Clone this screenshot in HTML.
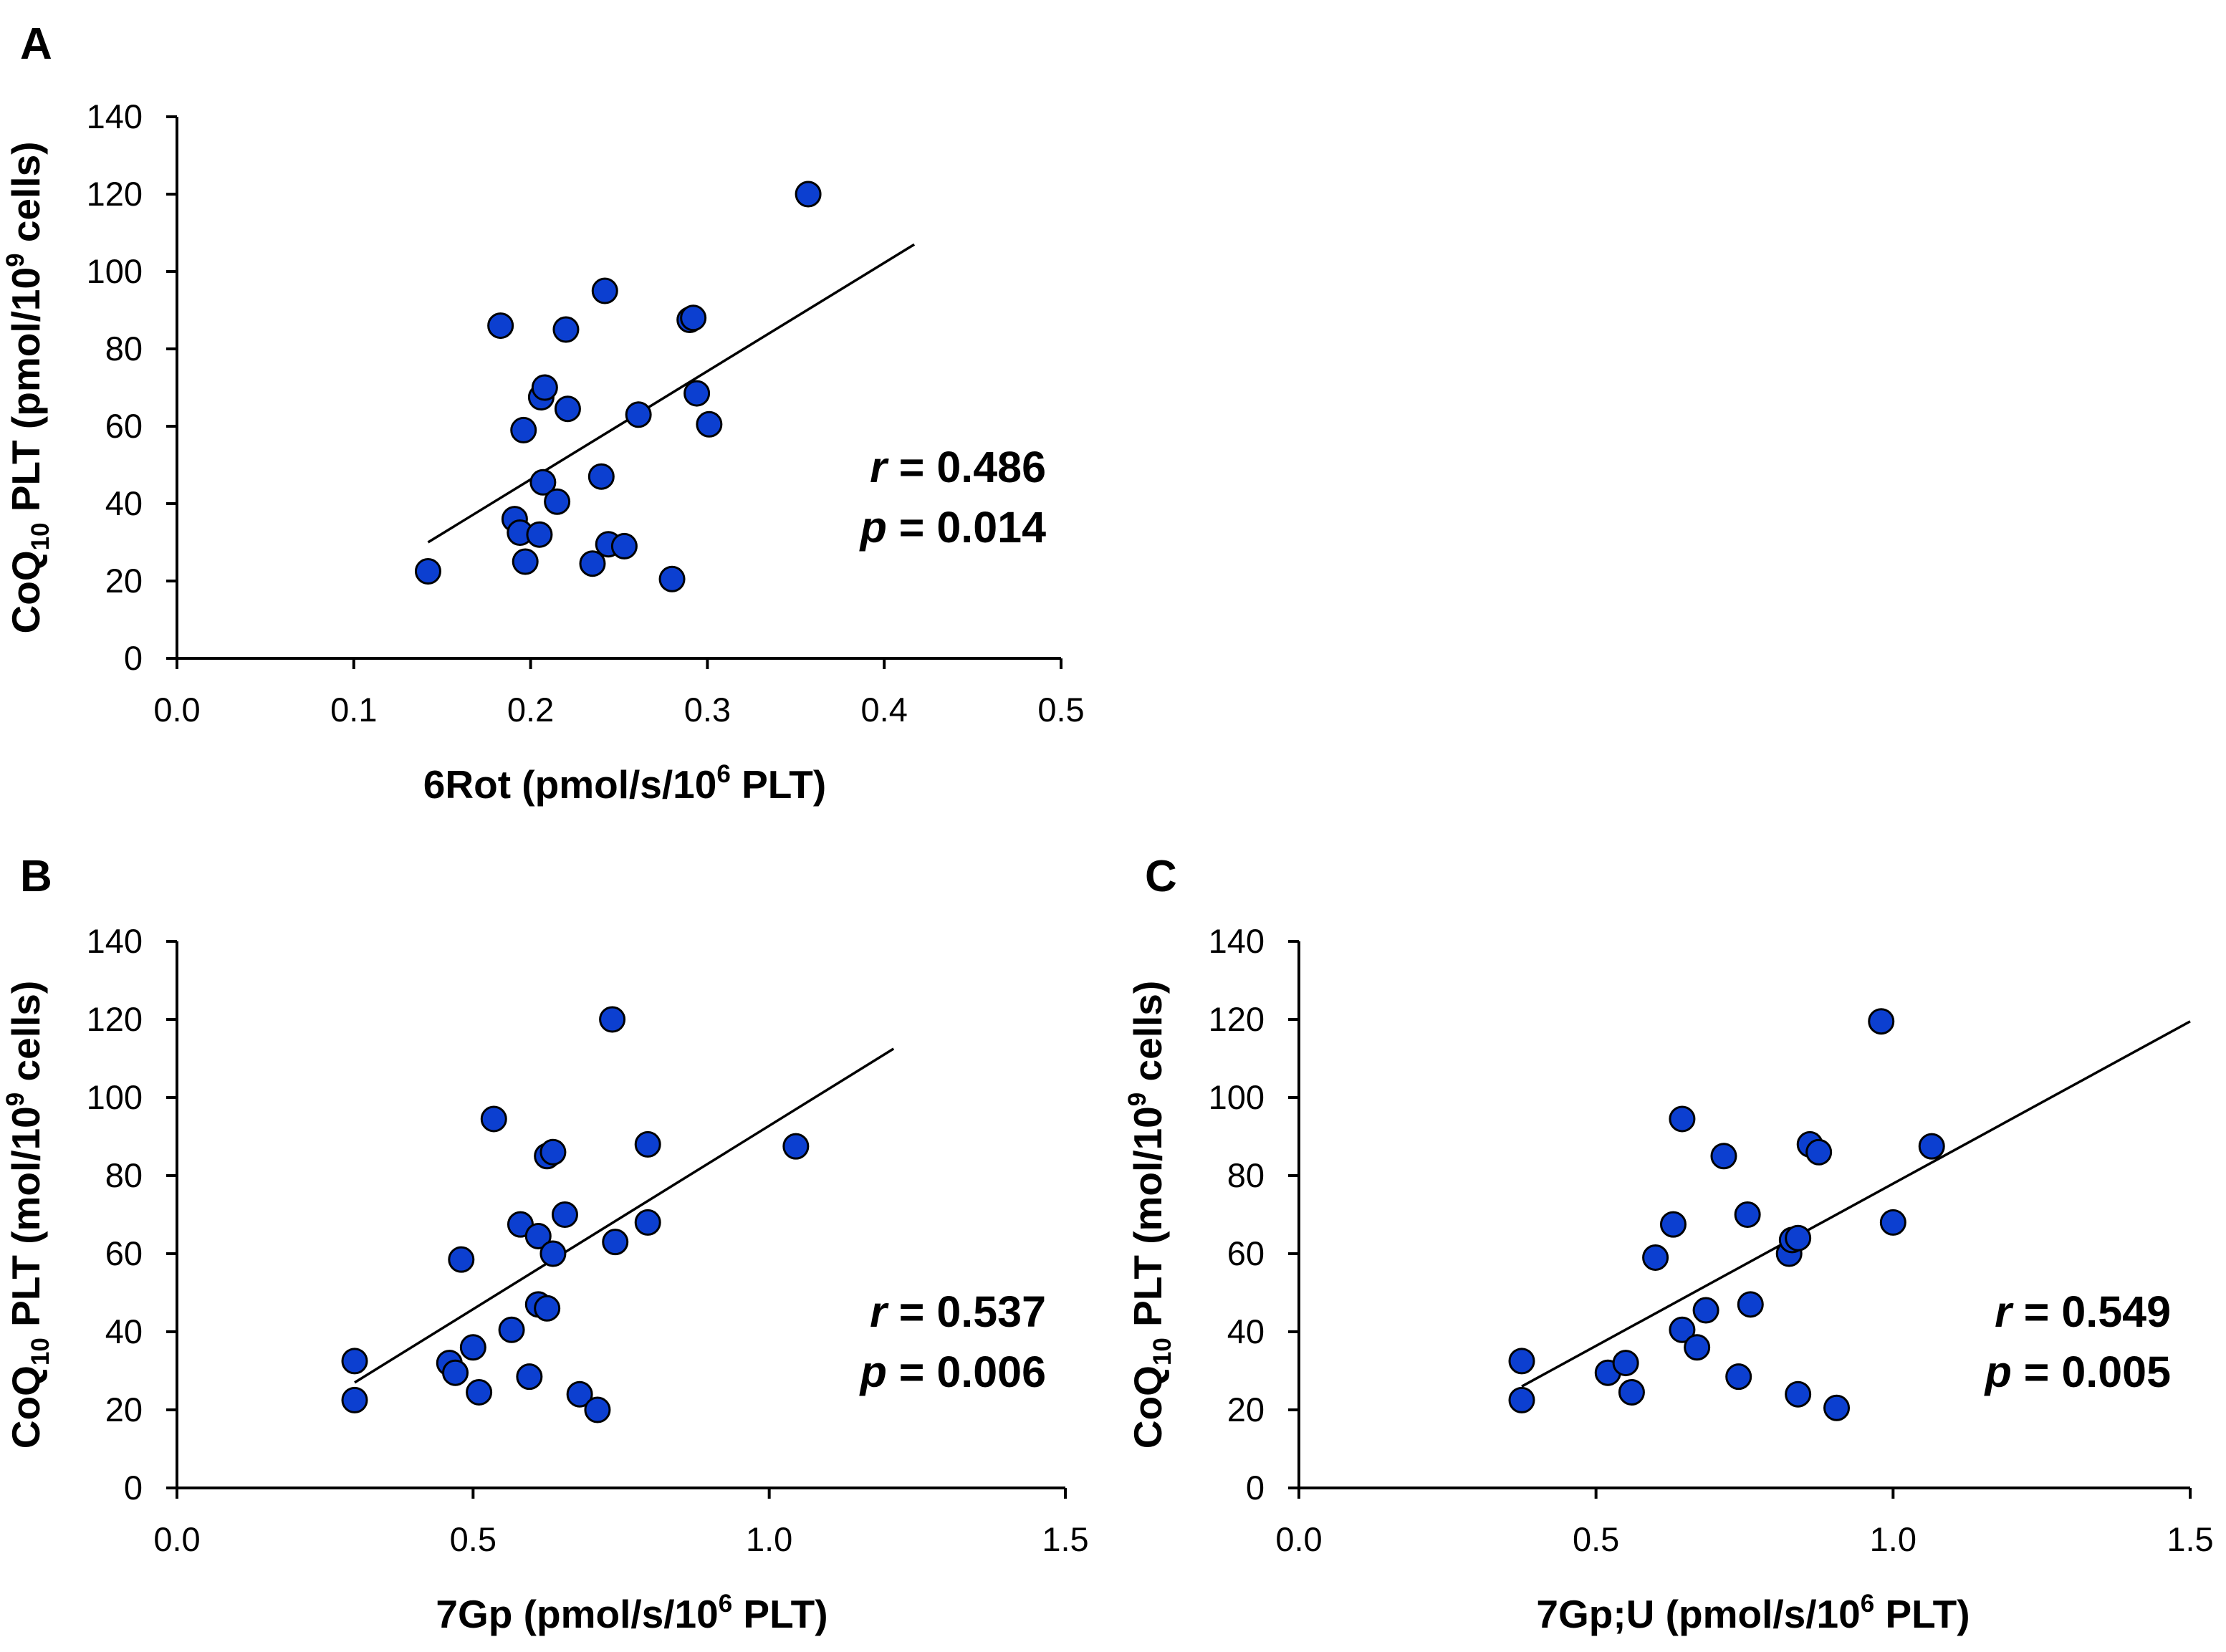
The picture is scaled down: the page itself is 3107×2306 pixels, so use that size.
<!DOCTYPE html>
<html><head><meta charset="utf-8"><style>
html,body{margin:0;padding:0;background:#fff;}
svg{display:block;font-family:"Liberation Sans",sans-serif;}
.tick{font-size:47px;fill:#000;}
.title{font-size:55px;font-weight:bold;fill:#000;}
.stat{font-size:61px;font-weight:bold;fill:#000;}
.letter{font-size:62px;font-weight:bold;fill:#000;}
</style></head><body>
<svg id="fig" width="3107" height="2306" viewBox="0 0 3107 2306" xmlns="http://www.w3.org/2000/svg"></svg>
<script>
// Panel A data
const aX = [0.142,0.183,0.191,0.194,0.196,0.197,0.205,0.206,0.207,0.208,0.215,0.220,0.221,0.235,0.240,0.242,0.244,0.253,0.261,0.280,0.290,0.292,0.294,0.301,0.357];
const aY = [22.5,86,36,32.5,59,25,32,67.5,45.5,70,40.5,85,64.5,24.5,47,95,29.5,29,63,20.5,87.5,88,68.5,60.5,120];
const aLineX = [0.142,0.417];
const aLineY = [30,107];
const aXTicks = ["0.0","0.1","0.2","0.3","0.4","0.5"];
// Panel B data
const bX = [0.30,0.30,0.46,0.47,0.48,0.50,0.51,0.535,0.565,0.58,0.595,0.61,0.61,0.625,0.625,0.635,0.635,0.655,0.68,0.71,0.735,0.74,0.795,0.795,1.045];
const bY = [32.5,22.5,32,29.5,58.5,36,24.5,94.5,40.5,67.5,28.5,64.5,47,46,85,86,60,70,24,20,120,63,88,68,87.5];
const bLineX = [0.30,1.21];
const bLineY = [27,112.5];
// Panel C data
const cX = [0.375,0.375,0.52,0.55,0.56,0.60,0.63,0.645,0.645,0.67,0.685,0.715,0.74,0.755,0.76,0.825,0.83,0.84,0.84,0.86,0.875,0.905,0.98,1.0,1.065];
const cY = [32.5,22.5,29.5,32,24.5,59,67.5,40.5,94.5,36,45.5,85,28.5,70,47,60,63.5,64,24,88,86,20.5,119.5,68,87.5];
const cLineX = [0.375,1.5];
const cLineY = [26,119.5];
const bcXTicks = ["0.0","0.5","1.0","1.5"];
const yTicks = [0,20,40,60,80,100,120,140];

const NS="http://www.w3.org/2000/svg";
const svg=document.getElementById('fig');
function mk(tag,attrs,parent,text){const e=document.createElementNS(NS,tag);for(const k in attrs)e.setAttribute(k,attrs[k]);if(text!==undefined)e.textContent=text;(parent||svg).appendChild(e);return e;}

function panel(o){
  const g=mk('g',{});
  
  
  const sx=v=>o.x0+(v-o.xmin)/(o.xmax-o.xmin)*(o.x1-o.x0);
  const sy=v=>o.y0-(v-0)/140*(o.y0-o.y1);
  const L=mk('text',{x:o.lx,y:o.ly,class:'letter'},g,o.id);
  
  
  const ya=mk('line',{x1:o.x0,y1:o.y1,x2:o.x0,y2:o.y0,stroke:'#000','stroke-width':4},g);
  
  
  const xa=mk('line',{x1:o.x0-15,y1:o.y0,x2:o.x1,y2:o.y0,stroke:'#000','stroke-width':4},g);
  
  
  yTicks.forEach(v=>{
    const y=sy(v);
    mk('line',{x1:o.x0-15,y1:y,x2:o.x0,y2:y,stroke:'#000','stroke-width':4},g);
    const t=mk('text',{x:o.x0-48,y:y+16,class:'tick','text-anchor':'end'},g,String(v));
    
    
  });
  o.xt.forEach(s=>{
    const x=sx(parseFloat(s));
    mk('line',{x1:x,y1:o.y0,x2:x,y2:o.y0+15,stroke:'#000','stroke-width':4},g);
    const t=mk('text',{x:x,y:o.y0+88,class:'tick','text-anchor':'middle'},g,s);
    
    
  });
  const tl=mk('line',{x1:sx(o.lX[0]),y1:sy(o.lY[0]),x2:sx(o.lX[1]),y2:sy(o.lY[1]),stroke:'#000','stroke-width':3.5},g);
  
  
  o.px.forEach((v,i)=>{
    const c=mk('circle',{cx:sx(v),cy:sy(o.py[i]),r:17,fill:'#0c3fd0',stroke:'#000','stroke-width':3},g);
    
    
  });
  const r=mk('text',{x:o.sx,y:o.sy,class:'stat','text-anchor':'end'},g);
  
  
  mk('tspan',{'font-style':'italic'},r,'r');mk('tspan',{},r,' = '+o.r);
  const p=mk('text',{x:o.sx,y:o.sy+84,class:'stat','text-anchor':'end'},g);
  
  
  mk('tspan',{'font-style':'italic'},p,'p');mk('tspan',{},p,' = '+o.p);
  const xt=mk('text',{x:o.xtx,y:o.y0+195,class:'title','text-anchor':'middle'},g);
  
  
  mk('tspan',{},xt,o.xname+' (pmol/s/10');mk('tspan',{'font-size':'35',dy:'-22'},xt,'6');mk('tspan',{dy:'22'},xt,' PLT)');
  const cy=(o.y0+o.y1)/2;
  const yt=mk('text',{x:0,y:0,class:'title','text-anchor':'middle',transform:`translate(${o.x0-192},${cy}) rotate(-90)`},g);
  
  
  mk('tspan',{},yt,'CoQ');mk('tspan',{'font-size':'35',dy:'13'},yt,'10');mk('tspan',{dy:'-13'},yt,' PLT ('+o.yunit+'/10');
  mk('tspan',{'font-size':'35',dy:'-22'},yt,'9');mk('tspan',{dy:'22'},yt,' cells)');
}
panel({id:'A',lx:28,ly:82,x0:247,x1:1481,xmin:0,xmax:0.5,y0:919,y1:163,xt:aXTicks,px:aX,py:aY,lX:aLineX,lY:aLineY,sx:1460,sy:673,r:'0.486',p:'0.014',xtx:872,xname:'6Rot',yunit:'pmol'});
panel({id:'B',lx:28,ly:1244,x0:247,x1:1487,xmin:0,xmax:1.5,y0:2077,y1:1314,xt:bcXTicks,px:bX,py:bY,lX:bLineX,lY:bLineY,sx:1460,sy:1852,r:'0.537',p:'0.006',xtx:882,xname:'7Gp',yunit:'mol'});
panel({id:'C',lx:1598,ly:1244,x0:1813,x1:3057,xmin:0,xmax:1.5,y0:2077,y1:1314,xt:bcXTicks,px:cX,py:cY,lX:cLineX,lY:cLineY,sx:3030,sy:1852,r:'0.549',p:'0.005',xtx:2447,xname:'7Gp;U',yunit:'mol'});
</script>
</body></html>
